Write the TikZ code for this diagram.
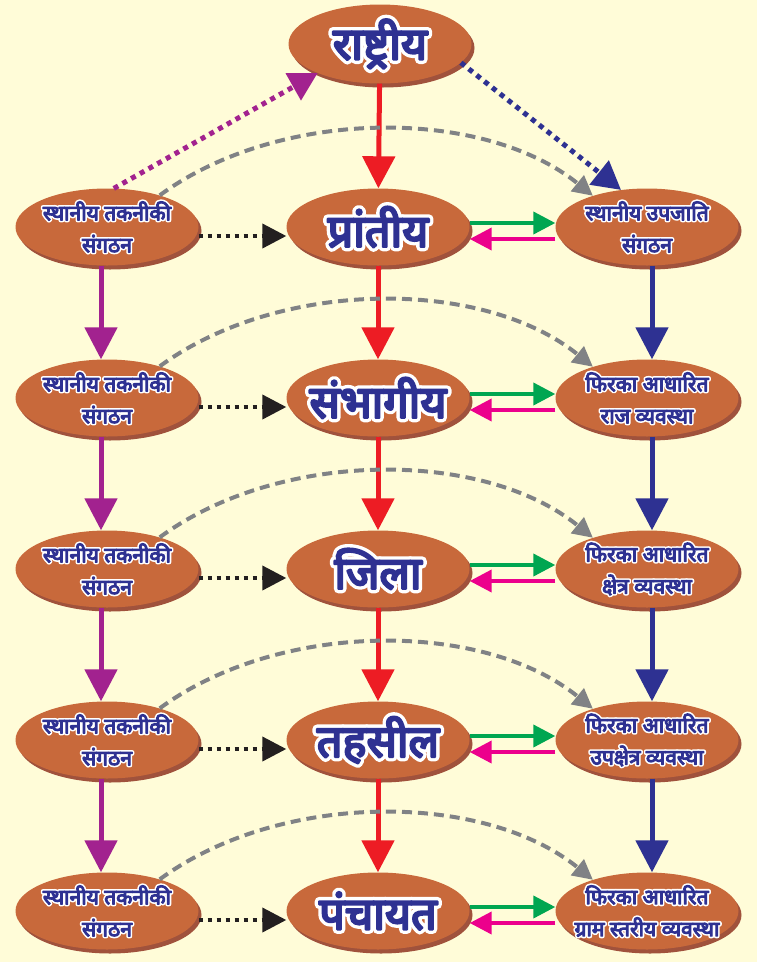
\documentclass[tikz,border=0pt]{standalone}
\usepackage{fontspec}
\newfontfamily\deva[Script=Devanagari,FakeBold=5]{Noto Sans}
\newfontfamily\devarim[Script=Devanagari,FakeBold=20]{Noto Sans}
\usetikzlibrary{arrows.meta,shapes.geometric,shadows}

\definecolor{bgyellow}{HTML}{FFFCD8}
\definecolor{blobfill}{HTML}{C8693B}
\definecolor{blobshade}{HTML}{A0523C}
\definecolor{textnavy}{HTML}{2E3192}
\definecolor{arrred}{HTML}{ED1C24}
\definecolor{arrpurple}{HTML}{A2228F}
\definecolor{arrnavy}{HTML}{2E3192}
\definecolor{arrgreen}{HTML}{00A651}
\definecolor{arrmagenta}{HTML}{EC008C}
\definecolor{arrgray}{HTML}{808285}
\definecolor{arrblack}{HTML}{231F20}

% white rim under the blue letters (round joins, no spikes)
\newcommand{\ol}[1]{\special{pdf:code 1 j 1 J}\rlap{\devarim\color{white}#1}#1}

\begin{document}
\begin{tikzpicture}[x=1pt,y=-1pt,
  blob/.style={ellipse,fill=blobfill,minimum width=183pt,minimum height=77pt,inner sep=0pt,
    drop shadow={shadow xshift=3pt,shadow yshift=-4pt,fill=blobshade,opacity=1}},
  bigtext/.style={font=\deva\fontsize{45}{48}\selectfont,text=textnavy,line join=round},
  smalltext/.style={font=\deva\fontsize{21}{32}\selectfont,text=textnavy,align=center,line join=round},
  down/.style={-{Triangle[length=32pt,width=32pt]},line width=5pt},
  sideways/.style={-{Triangle[length=22pt,width=22pt]},line width=4pt},
  dotline/.style={line width=5pt,dash pattern=on 5pt off 5pt},
  graycurve/.style={arrgray,line width=4pt,dash pattern=on 10pt off 6pt,
    -{Triangle[length=20pt,width=20pt]}}]

  \fill[bgyellow] (0,0) rectangle (757,962);
  \useasboundingbox (0,0) rectangle (757,962);

  \node[blob,minimum height=79pt,label={[bigtext]center:{\ol{राष्ट्रीय}}}] (T) at (380,44) {};

  \foreach \i/\y/\ctr/\rtop/\rbot in {1/227/प्रांतीय/स्थानीय उपजाति/संगठन,
      2/398/संभागीय/फिरका आधारित/राज व्यवस्था,
      3/569/जिला/फिरका आधारित/क्षेत्र व्यवस्था,
      4/740/तहसील/फिरका आधारित/उपक्षेत्र व्यवस्था,
      5/911/पंचायत/फिरका आधारित/ग्राम स्तरीय व्यवस्था}{
    \node[blob,label={[smalltext]center:{\ol{स्थानीय तकनीकी}\\\ol{संगठन}}}] (L\i) at (107,\y) {};
    \node[blob,label={[bigtext]center:{\ol{\ctr}}}] (C\i) at (378,\y) {};
    \node[blob,label={[smalltext]center:{\ol{\rtop}\\\ol{\rbot}}}] (R\i) at (647,\y) {};
  }

  % top level
  \draw[down,arrred] (T) -- (C1);
  \draw[dotline,arrpurple,-{Triangle[length=28pt,width=30pt]}] (L1.80) -- (T.205);
  \draw[dotline,arrnavy,-{Triangle[length=28pt,width=30pt]}] (T.-13) -- (R1.125);

  \foreach \i [evaluate=\i as \j using int(\i+1)] in {1,...,5}{
    \draw[graycurve] (L\i.31) .. controls +(120,-88) and +(-110,-89) .. (R\i.150);
    \draw[dotline,line width=4pt,dash pattern=on 4pt off 5pt,arrblack,
      -{Triangle[length=24pt,width=24pt]}] ([yshift=-9pt]L\i.east) -- ([yshift=-9pt]C\i.west);
    \draw[sideways,arrgreen] ([yshift=4pt]C\i.east) -- ([yshift=4pt]R\i.west);
    \draw[sideways,arrmagenta] ([yshift=-12pt]R\i.west) -- ([yshift=-12pt]C\i.east);
    \ifnum\i<5
      \draw[down,arrred] (C\i) -- (C\j);
      \draw[down,arrpurple] ([xshift=-6pt]L\i.south) -- ([xshift=-6pt]L\j.north);
      \draw[down,arrnavy] ([xshift=5pt]R\i.south) -- ([xshift=5pt]R\j.north);
    \fi
  }
\end{tikzpicture}
\end{document}
